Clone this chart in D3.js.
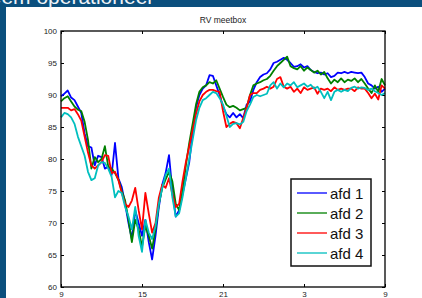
<!DOCTYPE html>
<html>
<head>
<meta charset="utf-8">
<script src="https://cdn.jsdelivr.net/npm/d3@7"></script>
<style>
  html, body { margin: 0; padding: 0; background: #0b4f7d; overflow: hidden; }
  svg { display: block; font-family: Arial, "Liberation Sans", sans-serif; }
</style>
</head>
<body>
<div id="chart"></div>
<script>
// one value every 15 minutes, from 9:00 until 9:00 the next day
const stepHours = 0.25;
const tickHours = [0, 6, 12, 18, 24];
const tickLabels = ['9', '15', '21', '3', '9'];
const yTicks = [60, 65, 70, 75, 80, 85, 90, 95, 100];
const seriesNames = ['afd 1', 'afd 2', 'afd 3', 'afd 4'];
const seriesColors = ['#0000ff', '#008000', '#ff0000', '#00bfbf'];

const afd1 = [89.8, 90.2, 90.7, 89.6, 89.2, 88.2, 87.2, 84.0, 82.0, 81.8, 79.0, 80.5, 80.3, 78.5, 78.8, 77.5,
  82.5, 77.0, 75.6, 73.0, 70.0, 67.5, 72.0, 70.0, 68.0, 70.5, 67.0, 64.3, 68.0, 72.5, 76.0, 77.8,
  80.6, 75.0, 71.0, 72.0, 74.5, 77.0, 79.5, 84.0, 88.0, 90.0, 91.0, 91.5, 93.1, 93.0, 91.5, 90.0,
  88.2, 87.0, 86.5, 87.2, 86.5, 87.0, 86.4, 88.5, 89.0, 90.8, 92.0, 92.8, 93.2, 93.4, 94.0, 95.0,
  95.2, 95.5, 95.8, 95.5, 95.0, 94.4, 94.5, 94.8, 94.3, 94.5, 93.9, 93.6, 93.4, 93.5, 93.2, 93.4,
  92.8, 93.0, 93.5, 93.4, 93.6, 93.4, 93.6, 93.5, 93.4, 93.5, 92.8, 91.8, 91.5, 91.0, 91.3, 90.5, 91.0];
const afd2 = [89.0, 89.5, 89.8, 89.0, 88.2, 87.7, 87.5, 85.8, 83.0, 78.5, 80.3, 79.5, 80.0, 82.0, 78.8, 78.5,
  77.8, 76.8, 75.0, 73.5, 70.5, 67.0, 70.5, 69.0, 66.3, 69.5, 68.0, 66.0, 69.0, 73.0, 75.5, 76.8,
  78.0, 76.5, 73.0, 72.0, 75.0, 79.0, 82.5, 85.5, 88.5, 90.5, 91.2, 91.5, 92.0, 91.8, 92.3, 91.0,
  89.7, 88.5, 88.1, 88.3, 88.0, 87.6, 87.8, 88.0, 90.0, 91.5, 91.8, 92.0, 92.3, 92.5, 93.0, 93.8,
  94.5, 95.0, 95.5, 96.0, 94.5, 94.2, 94.0, 94.5, 93.8, 94.3, 93.9, 93.5, 93.8, 93.2, 93.6, 92.6,
  91.8, 92.4, 92.0, 92.6, 92.0, 92.4, 92.2, 92.6, 92.0, 92.5, 91.8, 91.0, 90.3, 91.5, 90.5, 92.5, 91.5];
const afd3 = [88.0, 88.0, 88.0, 87.6, 87.8, 87.0, 86.0, 83.5, 81.0, 79.0, 78.5, 79.0, 79.5, 80.6, 80.5, 77.8,
  78.0, 76.7, 74.7, 73.0, 72.5, 73.5, 75.5, 72.0, 69.0, 74.7, 71.5, 68.5, 70.0, 74.0, 76.0, 75.5,
  77.0, 74.5, 72.5, 73.0, 76.5, 79.5, 82.0, 84.5, 87.0, 89.0, 90.0, 90.5, 90.8, 90.8, 90.6, 90.5,
  87.5, 85.0, 85.5, 85.8, 85.6, 84.8, 86.4, 88.0, 90.0, 90.3, 90.3, 90.8, 91.0, 91.3, 91.0, 91.3,
  92.5, 92.8, 91.3, 91.0, 91.3, 90.5, 91.0, 90.3, 91.2, 90.8, 91.0, 91.2, 90.2, 91.0, 90.8, 91.0,
  90.6, 91.2, 90.8, 91.0, 90.8, 91.0, 91.0, 90.6, 91.2, 91.0, 91.0, 90.3, 89.5, 90.2, 89.3, 91.5, 91.0];
const afd4 = [86.5, 87.2, 87.0, 86.5, 85.5, 83.5, 82.0, 80.5, 78.0, 76.7, 77.0, 79.0, 79.5, 79.4, 78.5, 77.2,
  74.0, 75.0, 74.7, 72.5, 71.0, 69.0, 72.5, 68.0, 65.5, 70.5, 68.5, 67.5, 69.5, 73.0, 75.5, 77.5,
  78.5, 74.0, 71.0, 71.5, 74.0, 77.0, 80.0, 83.0, 86.0, 88.0, 89.2, 89.5, 90.0, 90.5, 90.3, 89.5,
  88.5, 86.8, 85.0, 85.5, 85.6, 85.4, 85.8, 87.5, 88.5, 89.7, 90.0, 89.8, 90.0, 90.2, 91.5, 92.0,
  91.0, 91.8, 91.2, 91.8, 91.5, 92.0, 91.2, 91.5, 91.8, 91.3, 91.6, 91.0, 91.3, 90.5, 89.5, 90.5,
  89.2, 90.5, 90.8, 90.5, 90.8, 90.6, 91.1, 91.3, 91.0, 91.2, 91.1, 90.8, 91.0, 90.6, 90.3, 90.0, 90.3];

const allSeries = [afd1, afd2, afd3, afd4];

const width = 422;
const height = 298;
const plot = { left: 61, right: 385, top: 31, bottom: 287 };

const svg = d3.select('#chart')
  .append('svg')
  .attr('width', width)
  .attr('height', height);

// slide background: white panel and the clipped heading above it
svg.append('rect')
  .attr('x', 6).attr('y', 7)
  .attr('width', width - 6).attr('height', height - 7)
  .attr('fill', '#ffffff');

svg.append('text')
  .attr('x', 152).attr('y', 4)
  .attr('text-anchor', 'end')
  .attr('fill', '#eef3f7')
  .style('font-size', '21px')
  .text('Systeem operationeel');

const x = d3.scaleLinear().domain([0, 24]).range([plot.left, plot.right]);
const y = d3.scaleLinear().domain([60, 100]).range([plot.bottom, plot.top]);

svg.append('text')
  .attr('x', (plot.left + plot.right) / 2).attr('y', 23)
  .attr('text-anchor', 'middle')
  .attr('fill', '#222')
  .style('font-size', '8.5px')
  .text('RV meetbox');

// axes, with ticks pointing inward on all four sides
const tickLen = 3;
const axisLeft = d3.axisLeft(y).tickValues(yTicks).tickSize(-tickLen).tickPadding(4);
const axisRight = d3.axisRight(y).tickValues(yTicks).tickSize(-tickLen).tickFormat('');
const axisBottom = d3.axisBottom(x).tickValues(tickHours).tickSize(-tickLen).tickPadding(4)
  .tickFormat((d, i) => tickLabels[i]);
const axisTop = d3.axisTop(x).tickValues(tickHours).tickSize(-tickLen).tickFormat('');

svg.append('g').attr('transform', `translate(${plot.left},0)`).call(axisLeft);
svg.append('g').attr('transform', `translate(${plot.right},0)`).call(axisRight);
svg.append('g').attr('transform', `translate(0,${plot.bottom})`).call(axisBottom);
svg.append('g').attr('transform', `translate(0,${plot.top})`).call(axisTop);

svg.selectAll('.domain').remove();
svg.selectAll('.tick line').attr('stroke', '#000');
svg.selectAll('.tick text').attr('fill', '#222').style('font-size', '8px')
  .style('font-family', 'Arial, "Liberation Sans", sans-serif');

const line = d3.line()
  .x((d, i) => x(i * stepHours))
  .y(d => y(d));

svg.append('g')
  .selectAll('path')
  .data(allSeries)
  .enter()
  .append('path')
  .attr('d', d => line(d))
  .attr('fill', 'none')
  .attr('stroke', (d, i) => seriesColors[i])
  .attr('stroke-width', 1.8)
  .attr('stroke-linejoin', 'round');

svg.append('rect')
  .attr('x', plot.left).attr('y', plot.top)
  .attr('width', plot.right - plot.left).attr('height', plot.bottom - plot.top)
  .attr('fill', 'none')
  .attr('stroke', '#000')
  .attr('stroke-width', 1.3);

// legend
const legend = svg.append('g').attr('transform', 'translate(291,179)');
legend.append('rect')
  .attr('width', 80).attr('height', 87)
  .attr('fill', '#fff')
  .attr('stroke', '#111')
  .attr('stroke-width', 1.5);

const item = legend.selectAll('g.item')
  .data(seriesNames)
  .enter()
  .append('g')
  .attr('transform', (d, i) => `translate(0,${14 + i * 20})`);

item.append('line')
  .attr('x1', 6).attr('x2', 36)
  .attr('stroke', (d, i) => seriesColors[i])
  .attr('stroke-width', 1.3);

item.append('text')
  .attr('x', 39).attr('y', 5.5)
  .attr('fill', '#111')
  .style('font-size', '15px')
  .text(d => d);
</script>
</body>
</html>
